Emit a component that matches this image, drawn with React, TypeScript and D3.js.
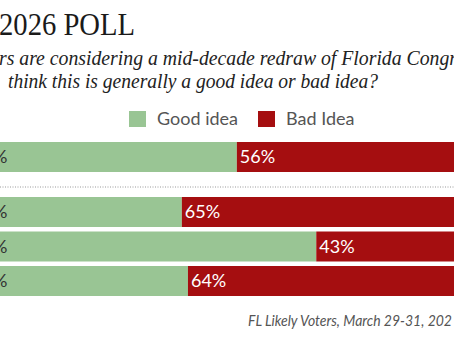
import React from "react";
import * as d3 from "d3";

const groups = ["All", "Group A", "Group B", "Group C"];
const goodIdea = [44, 35, 57, 36];
const badIdea = [56, 65, 43, 64];
const legendLabels = ["Good idea", "Bad Idea"];
const titleText = "2026 POLL";
const subtitleLines = [
  "rs are considering a mid-decade redraw of Florida Congr",
  "think this is generally a good idea or bad idea?",
];
const footerText = "FL Likely Voters, March 29-31, 202";

const W = 454;
const H = 341;
const GREEN = "#99c594";
const RED = "#a50e10";

export default function App() {
  const x = d3.scaleLinear().domain([0, 100]).range([-32, 579]);
  const barH = 30;
  const step = 34.5;
  const top = 142;
  const extraGap = 20.5;
  const y = (i: number) => top + i * step + (i > 0 ? extraGap : 0);
  const sepY = 187;

  const sans = "Lato, 'Noto Sans', sans-serif";
  const serif = "'Liberation Serif', 'DejaVu Serif', serif";

  const subX = [-1, 8];
  const subLen = [458, 370];

  return (
    <svg
      width={W}
      height={H}
      viewBox={`0 0 ${W} ${H}`}
      style={{ position: "absolute", left: 0, top: 0, background: "#fff" }}
    >
      <rect x={0} y={0} width={W} height={H} fill="#fff" />
      <text
        x={-1}
        y={35}
        fontFamily={serif}
        fontSize={31}
        fill="#1a1a1a"
        textLength={136}
        lengthAdjust="spacingAndGlyphs"
      >
        {titleText}
      </text>
      {subtitleLines.map((t, i) => (
        <text
          key={i}
          x={subX[i]}
          y={65 + i * 23}
          fontFamily={serif}
          fontStyle="italic"
          fontSize={20}
          fill="#222"
          textLength={subLen[i]}
          lengthAdjust="spacingAndGlyphs"
        >
          {t}
        </text>
      ))}
      {legendLabels.map((l, i) => {
        const lx = i === 0 ? 129 : 258;
        return (
          <g key={l}>
            <rect x={lx} y={111} width={17} height={16} fill={i === 0 ? GREEN : RED} />
            <text x={lx + 28} y={125} fontFamily={sans} fontSize={18} fill="#555">
              {l}
            </text>
          </g>
        );
      })}
      {groups.map((g, i) => (
        <g key={g}>
          <rect x={x(0)} y={y(i)} width={x(goodIdea[i]) - x(0)} height={barH} fill={GREEN} />
          <rect
            x={x(goodIdea[i])}
            y={y(i)}
            width={x(goodIdea[i] + badIdea[i]) - x(goodIdea[i])}
            height={barH}
            fill={RED}
          />
          <text
            x={x(0) + 4}
            y={y(i) + barH / 2 + 6}
            fontFamily={sans}
            fontSize={18}
            fill="#333"
          >
            {goodIdea[i]}%
          </text>
          <text
            x={x(goodIdea[i]) + 3}
            y={y(i) + barH / 2 + 6}
            fontFamily={sans}
            fontSize={18}
            fill="#fff"
          >
            {badIdea[i]}%
          </text>
        </g>
      ))}
      <line
        x1={0}
        x2={W}
        y1={sepY}
        y2={sepY}
        stroke="#999"
        strokeWidth={1}
        strokeDasharray="1,1.5"
      />
      <text
        x={248}
        y={326}
        fontFamily={sans}
        fontStyle="italic"
        fontSize={15}
        fill="#555"
        textLength={204}
        lengthAdjust="spacingAndGlyphs"
      >
        {footerText}
      </text>
    </svg>
  );
}
